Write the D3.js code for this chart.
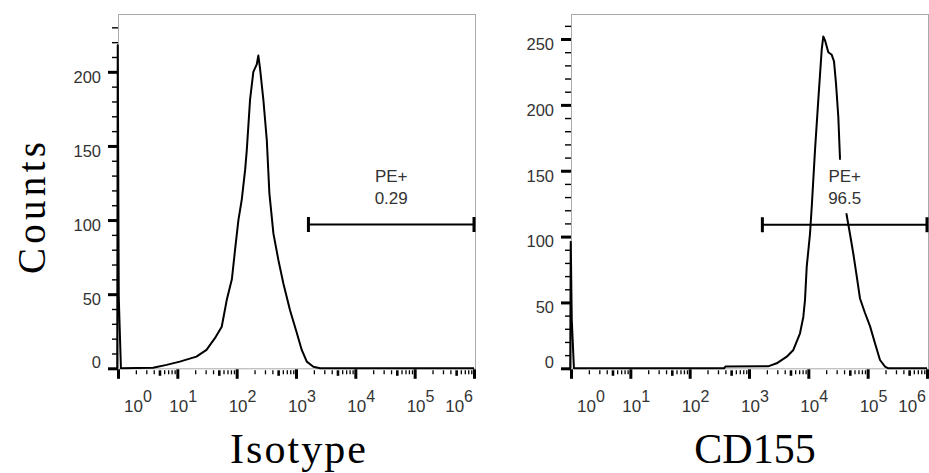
<!DOCTYPE html>
<html>
<head>
<meta charset="utf-8">
<script src="https://cdn.jsdelivr.net/npm/d3@7"></script>
<style>
body { margin: 0; background: #fff; }
svg { display: block; }
.lbl { font-family: "Liberation Sans", Arial, Helvetica, sans-serif; font-size: 16.5px; fill: #333; }
.title { font-family: "Liberation Serif", "Times New Roman", serif; fill: #000; }
</style>
</head>
<body>
<div id="chart"></div>
<script>
w = 929;
h = 473;
boxTop = 14;
boxBottom = 368.3;

// Isotype histogram (PE fluorescence, cell counts)
var isoIntensity = [0.97, 0.99, 1.03, 1.12, 3.9, 6.6, 11, 21, 31, 43, 56, 68, 83, 94, 107, 122, 139, 148, 168, 191, 218, 232, 248, 282, 322, 356, 416, 505, 614, 795, 1030, 1250, 1520, 1960, 2550, 1e6];
var isoCounts    = [0, 218, 48, 0, 0.4, 2.3, 4.5, 7.9, 12.4, 20.3, 28, 46, 60, 80, 100, 114, 134, 147, 181, 200, 205, 211, 202, 181, 154, 118, 91, 73, 57, 39, 24, 12.4, 4.5, 1.1, 0, 0];

// CD155 histogram
var cdIntensity = [0.97, 0.99, 1.03, 1.12, 380, 400, 2100, 2930, 4330, 5590, 7240, 8230, 8790, 9390, 10670, 11500, 12970, 14730, 16810, 17880, 19090, 21710, 24780, 27100, 29300, 32000, 34200, 44360, 50370, 57300, 65350, 74300, 90200, 109500, 132800, 161400, 196000, 222800, 1e6];
var cdCounts    = [0, 96, 37, 0, 0, 1.3, 1.5, 3.8, 8.8, 13.9, 26.6, 39, 52, 77, 102, 125, 166, 204, 242, 252, 249, 240, 238, 233, 216, 191, 159, 116, 102, 87, 70, 53, 42, 32, 19, 6.3, 1.2, 0, 0];

var isoYTicks = [0, 50, 100, 150, 200];
var cdYTicks = [0, 50, 100, 150, 200, 250];
var decadeExp = [0, 1, 2, 3, 4, 5, 6];
var minorMult = [2, 3, 4, 5, 6, 7, 8, 9];

var gateName = ["PE+", "PE+"];
var gatePct = ["0.29", "96.5"];
var gateLow = [1620, 1680];
var gateHigh = [1e6, 1e6];
var gateLevel = [97, 109];

var panelTitles = ["Isotype", "CD155"];

var panels = [
	{ left: 118, right: 474, boxRight: 475, ymax: 239, xs: isoIntensity, ys: isoCounts, yTicks: isoYTicks, titleX: 298 },
	{ left: 571, right: 927, boxRight: 928, ymax: 269, xs: cdIntensity, ys: cdCounts, yTicks: cdYTicks, titleX: 755 }
];

var svg = d3.select("#chart").append("svg")
	.attr("width", w)
	.attr("height", h);

function styleTicks(sel, width) {
	sel.select(".domain").remove();
	sel.selectAll(".tick line").attr("stroke", "#000").attr("stroke-width", width);
}

panels.forEach(function(p, i) {
	var xScale = d3.scaleLog().domain([1, 1e6]).range([p.left, p.right]);
	var yScale = d3.scaleLinear().domain([0, p.ymax]).range([boxBottom, boxTop]);
	var g = svg.append("g");

	// frame
	g.append("rect")
		.attr("x", p.left + 0.5)
		.attr("y", boxTop + 0.5)
		.attr("width", p.boxRight - p.left)
		.attr("height", boxBottom - boxTop)
		.attr("fill", "none")
		.attr("stroke", "#aaa")
		.attr("stroke-width", 1);

	// y axis: minor every 10, major from tick list
	g.append("g")
		.attr("transform", "translate(" + p.left + ",0)")
		.call(d3.axisLeft(yScale).tickValues(d3.range(0, p.ymax, 10)).tickSize(6).tickFormat(""))
		.call(styleTicks, 1.4);
	g.append("g")
		.attr("transform", "translate(" + p.left + ",0)")
		.call(d3.axisLeft(yScale).tickValues(p.yTicks).tickSize(10).tickFormat(""))
		.call(styleTicks, 3);

	g.selectAll(".ylab").data(p.yTicks).enter()
		.append("text")
		.attr("class", "lbl")
		.attr("text-anchor", "end")
		.attr("x", p.left - 17)
		.attr("y", function(d) { return yScale(d) + (d === 0 ? 0 : 10.9); })
		.text(function(d) { return d; });

	// x axis: log ticks
	var minors = [], mids = [];
	decadeExp.slice(0, 6).forEach(function(k) {
		minorMult.forEach(function(m) {
			if (m === 5) mids.push(m * Math.pow(10, k));
			else minors.push(m * Math.pow(10, k));
		});
	});
	var majors = decadeExp.map(function(k) { return Math.pow(10, k); });

	g.append("g")
		.attr("transform", "translate(0," + (boxBottom + 2) + ")")
		.call(d3.axisBottom(xScale).tickValues(minors).tickSize(4).tickFormat(""))
		.call(styleTicks, 1.3);
	g.append("g")
		.attr("transform", "translate(0," + (boxBottom + 2) + ")")
		.call(d3.axisBottom(xScale).tickValues(mids).tickSize(5.5).tickFormat(""))
		.call(styleTicks, 2.6);
	g.append("g")
		.attr("transform", "translate(0," + (boxBottom + 1) + ")")
		.call(d3.axisBottom(xScale).tickValues(majors).tickSize(9.5).tickFormat(""))
		.call(styleTicks, 3);

	var xl = g.selectAll(".xlab").data(decadeExp).enter()
		.append("text")
		.attr("class", "lbl")
		.style("font-size", "17px")
		.attr("text-anchor", function(k) { return k === 6 ? "end" : "start"; })
		.attr("x", function(k) {
			var x = xScale(Math.pow(10, k));
			if (k === 0) return x + 6;
			if (k === 6) return x - 1;
			return x - 8;
		})
		.attr("y", 411.7);
	xl.append("tspan").text("10");
	xl.append("tspan").attr("dy", -10).style("font-size", "16px").text(function(k) { return k; });

	// histogram
	var line = d3.line()
		.x(function(d) { return xScale(d[0]); })
		.y(function(d) { return yScale(d[1]); });
	g.append("path")
		.datum(d3.zip(p.xs, p.ys))
		.attr("d", line)
		.attr("fill", "none")
		.attr("stroke", "#000")
		.attr("stroke-width", 2)
		.attr("stroke-linejoin", "round");

	// gate
	var gy = yScale(gateLevel[i]);
	var gx1 = xScale(gateLow[i]), gx2 = xScale(gateHigh[i]);
	g.append("line")
		.attr("x1", gx1).attr("x2", gx2).attr("y1", gy).attr("y2", gy)
		.attr("stroke", "#000").attr("stroke-width", 2);
	g.selectAll(".cap").data([gx1, gx2]).enter()
		.append("line")
		.attr("x1", function(d) { return d; }).attr("x2", function(d) { return d; })
		.attr("y1", gy - 7.5).attr("y2", gy + 7.5)
		.attr("stroke", "#000").attr("stroke-width", 3);

	var lx = xScale(Math.sqrt(gateLow[i] * gateHigh[i]));
	var bg = g.append("rect").attr("fill", "#fff");
	var t = g.append("text")
		.attr("class", "lbl")
		.style("font-size", "17px")
		.attr("text-anchor", "middle");
	t.append("tspan").attr("x", lx).attr("y", gy - 43).text(gateName[i]);
	t.append("tspan").attr("x", lx).attr("y", gy - 20.5).text(gatePct[i]);
	var bb = t.node().getBBox();
	bg.attr("x", bb.x - 4).attr("y", bb.y - 7)
		.attr("width", bb.width + 8).attr("height", bb.height + 12);

	// panel title
	svg.append("text")
		.attr("class", "title")
		.attr("text-anchor", "middle")
		.attr("x", p.titleX)
		.attr("y", 463)
		.style("font-size", "42px")
		.attr("textLength", i === 0 ? 136 : null)
		.attr("lengthAdjust", "spacing")
		.text(panelTitles[i]);
});

svg.append("text")
	.attr("class", "title")
	.attr("text-anchor", "middle")
	.attr("transform", "translate(45,208) rotate(-90)")
	.style("font-size", "39px")
	.attr("textLength", 132)
	.attr("lengthAdjust", "spacing")
	.text("Counts");
</script>
</body>
</html>
